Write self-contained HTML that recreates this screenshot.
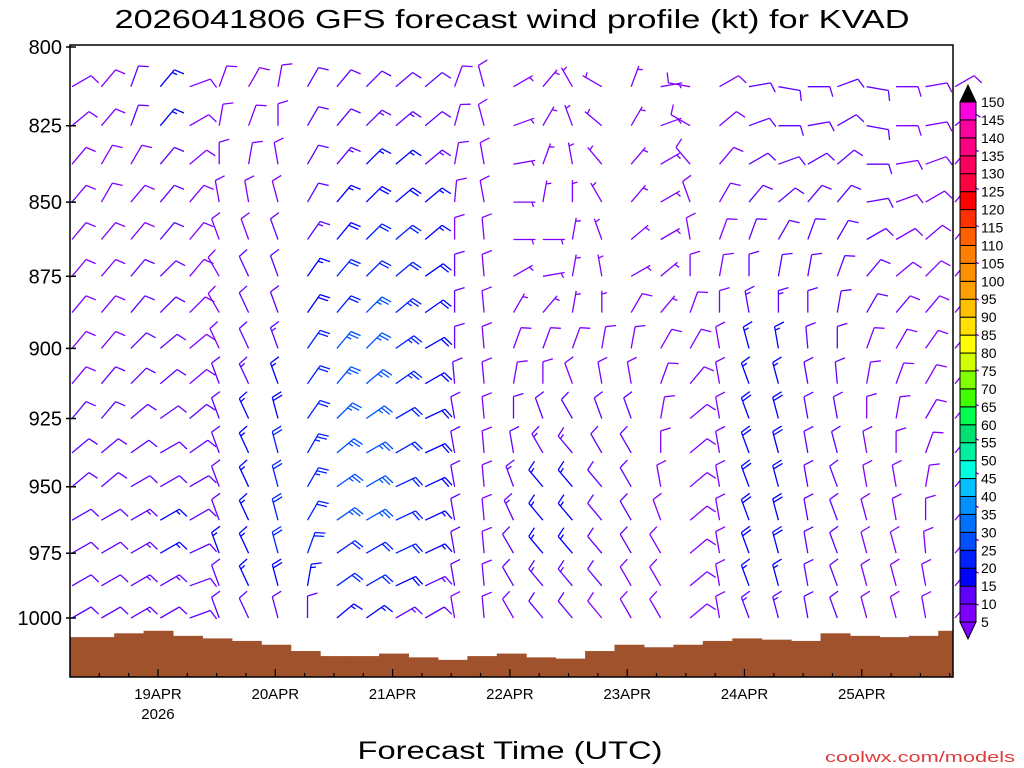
<!DOCTYPE html>
<html><head><meta charset="utf-8">
<style>
html,body{margin:0;padding:0;background:#fff;}
svg{display:block;font-family:"Liberation Sans",sans-serif;}
</style></head>
<body>
<svg id="chart" width="1024" height="768" viewBox="0 0 1024 768">
<text x="512" y="28" text-anchor="middle" font-size="26" textLength="795" lengthAdjust="spacingAndGlyphs">2026041806 GFS forecast wind profile (kt) for KVAD</text>
<g id="terrain"></g>
<g id="barbs"></g>
<rect x="70" y="45" width="883" height="632" fill="none" stroke="#000" stroke-width="1.5"/>
<g id="yaxis"></g>
<g id="xaxis"></g>
<text x="510" y="759" text-anchor="middle" font-size="25" textLength="305" lengthAdjust="spacingAndGlyphs">Forecast Time (UTC)</text>
<text x="1015" y="762" text-anchor="end" font-size="15" fill="#e03a3a" textLength="190" lengthAdjust="spacingAndGlyphs">coolwx.com/models</text>
<g id="cbar"></g>
</svg>
<script>
const levels=[812.5,825,837.5,850,862.5,875,887.5,900,912.5,925,937.5,950,962.5,975,987.5,1000];
const pTicks=[800,825,850,875,900,925,950,975,1000];
const dayLabels=["19APR","20APR","21APR","22APR","23APR","24APR","25APR"];
const cbarLabels=[5,10,15,20,25,30,35,40,45,50,55,60,65,70,75,80,85,90,95,100,105,110,115,120,125,130,135,140,145,150];
const cbarColors=["#8000ff","#6000ff","#0000ff","#0020ff","#0050ff","#0070ff","#0090ff","#00c0ff","#00ffe0","#00f0a0","#00e070","#00ff50","#40ff00","#80ff00","#d0ff00","#ffff00","#ffe000","#ffc000","#ffa000","#ff9000","#ff8000","#ff6000","#ff3000","#ff0000","#ff0040","#ff0060","#ff0080","#ff00a0","#ff00e0"];
const sfcP=[1007.5,1007.5,1006,1005,1007,1008,1009,1010.5,1013,1015,1015,1014,1015.5,1016.5,1015,1014,1015.5,1016,1013,1010.5,1011.5,1010.5,1009,1008,1008.5,1009,1006,1007,1007.5,1007,1005];
const dirs=[
[60,50,40,40,40,40,40,40,40,40,50,50,60,60,60,60],
[40,40,30,30,40,40,40,40,40,40,50,50,60,60,60,60],
[20,20,30,40,40,40,40,45,45,50,55,60,60,60,60,60],
[40,40,40,40,40,45,45,50,50,55,60,60,60,60,60,60],
[70,60,50,40,40,40,45,50,50,50,55,60,60,65,70,70],
[20,10,0,350,340,330,330,335,340,340,340,340,340,340,340,340],
[30,20,10,350,340,335,335,335,335,335,335,335,335,335,335,335],
[10,0,350,345,340,340,340,340,340,345,345,345,345,345,345,345],
[30,30,30,30,35,35,35,35,35,35,30,30,30,20,10,0],
[40,40,40,40,40,40,40,40,40,45,50,55,55,55,55,50],
[45,45,45,45,45,45,45,45,50,55,60,60,60,60,60,55],
[50,50,50,50,50,50,50,55,55,60,60,65,65,65,65,60],
[50,50,50,50,50,55,55,60,60,65,65,65,65,65,65,60],
[20,15,10,5,0,0,0,0,355,350,350,350,350,350,350,350],
[345,345,350,350,355,355,355,355,355,355,355,355,355,355,355,355],
[60,70,80,90,90,60,30,20,10,0,350,340,335,330,330,330],
[40,30,20,10,90,80,40,20,0,340,330,320,320,320,320,320],
[330,340,350,0,10,10,10,20,340,330,320,320,320,320,320,320],
[300,310,320,330,340,350,0,10,350,340,330,320,320,320,320,320],
[20,30,40,40,50,60,30,10,350,340,330,330,330,330,330,330],
[80,70,60,60,60,50,40,30,20,10,0,350,340,330,330,330],
[280,300,320,340,350,0,20,30,40,50,50,50,50,50,50,50],
[60,50,40,30,20,10,0,350,350,350,350,350,350,350,350,350],
[80,70,60,40,20,0,350,345,340,340,340,340,340,340,340,340],
[100,90,70,50,30,10,0,350,345,345,345,345,345,345,345,345],
[90,80,60,40,20,10,0,355,350,350,350,350,350,350,350,350],
[70,60,50,40,30,20,10,0,355,350,345,340,340,340,340,340],
[100,100,90,80,60,40,30,20,10,0,350,350,345,345,345,345],
[90,90,80,70,60,50,40,30,20,10,0,350,350,345,345,345],
[80,80,70,60,50,45,40,35,30,30,20,10,0,355,350,350],
[60,50,40,40,40,40,40,40,40,40,40,40,40,40,40,40]];
const speeds=[
[8,8,8,8,8,8,8,8,8,10,10,10,10,10,10,10],
[8,8,8,8,8,8,8,8,10,10,10,12,12,12,12,12],
[10,10,8,8,8,10,10,10,10,10,12,12,14,14,14,14],
[15,15,12,10,10,10,10,10,10,10,12,12,15,15,14,12],
[8,8,8,8,8,8,8,8,8,10,10,10,10,10,10,12],
[8,8,8,8,8,8,8,8,10,10,12,12,12,15,12,10],
[8,8,8,8,8,10,10,12,14,15,16,16,16,16,15,12],
[8,8,8,8,10,10,12,14,15,18,20,20,20,20,18,12],
[10,10,10,12,14,16,18,20,22,22,24,24,22,20,16,12],
[12,12,14,16,18,20,22,25,25,25,25,25,25,22,20,15],
[12,14,16,18,20,22,25,25,25,25,25,25,25,22,20,15],
[12,14,16,18,20,22,24,24,24,22,22,22,22,20,18,14],
[10,12,14,15,16,18,18,18,18,18,18,18,16,15,14,12],
[8,8,8,8,8,10,10,10,10,10,10,10,10,10,10,8],
[8,8,8,8,8,8,8,8,8,8,8,8,8,8,8,8],
[6,6,6,6,6,6,6,8,8,10,12,14,14,12,10,8],
[6,6,6,6,6,6,6,8,8,10,14,16,16,16,14,10],
[6,6,6,6,6,6,6,8,8,12,14,16,16,16,14,10],
[6,6,6,6,6,6,6,8,8,10,12,12,12,12,10,8],
[6,6,6,6,6,6,8,8,8,10,10,10,10,10,8,8],
[6,6,6,6,6,6,6,8,8,8,8,8,8,8,8,8],
[8,8,8,8,8,8,8,8,8,8,8,8,8,8,8,8],
[8,8,8,8,8,8,8,8,8,8,8,8,8,8,8,8],
[10,10,10,10,10,12,14,16,16,18,18,18,18,18,16,14],
[12,12,12,12,12,12,14,16,16,18,18,18,18,18,16,14],
[10,10,10,10,10,10,10,10,10,10,10,10,10,10,10,10],
[10,10,10,10,10,10,10,10,10,10,10,10,10,10,10,10],
[12,12,12,10,10,10,10,8,8,8,8,8,8,8,8,8],
[8,8,8,8,8,8,8,8,8,8,8,8,8,8,8,8],
[8,8,8,8,8,8,8,8,8,8,8,8,8,8,8,8],
[8,8,8,8,8,8,8,8,8,8,8,8,8,8,8,8]];

const NS="http://www.w3.org/2000/svg";
const X0=70,X1=953,Y0=45,Y1=677;
const colW=(X1-X0)/30;
function xCol(i){return X0+i*colW;}
function xDay(d){return X0+(d+0.75)*117.3;} // d=0 -> 19APR 00Z
function yP(p){return 47+Math.log(p/800)/Math.log(1000/800)*571;}
function mk(tag,attrs,parent){const e=document.createElementNS(NS,tag);for(const k in attrs)e.setAttribute(k,attrs[k]);parent.appendChild(e);return e;}
function colorFor(s){let i=Math.floor(s/5)-1;if(i<0)i=0;if(i>28)i=28;return cbarColors[i];}

// terrain
const terr=document.getElementById('terrain');
for(let i=0;i<sfcP.length;i++){
  const xa=Math.max(X0,xCol(i)-colW/2),xb=Math.min(X1,xCol(i)+colW/2);
  const y=yP(sfcP[i]);
  const r=mk('rect',{x:xa,y:y,width:xb-xa+0.5,height:Y1-y,fill:'#a0522d'},terr);
  
  
}

// barbs
const bg=document.getElementById('barbs');
for(let i=0;i<dirs.length;i++){
  for(let k=0;k<levels.length;k++){
    if(levels[k]>sfcP[i]-3)continue;
    const d=dirs[i][k]*Math.PI/180,s=speeds[i][k];
    const x=xCol(i)+2,y=yP(levels[k]);
    const ux=Math.sin(d),uy=-Math.cos(d);
    const px=-uy,py=ux; // clockwise perpendicular
    const L=22,ex=x+ux*L,ey=y+uy*L;
    let path=`M${x.toFixed(1)},${y.toFixed(1)}L${ex.toFixed(1)},${ey.toFixed(1)}`;
    let rem=Math.round(s/5)*5,pos=0;
    const bl=10;
    while(rem>=10){
      const sx=ex-ux*pos*3.5,sy=ey-uy*pos*3.5;
      path+=`M${sx.toFixed(1)},${sy.toFixed(1)}l${(px*bl+ux*3).toFixed(1)},${(py*bl+uy*3).toFixed(1)}`;
      rem-=10;pos++;
    }
    if(rem>=5){
      if(pos===0)pos=1;
      const sx=ex-ux*pos*3.5,sy=ey-uy*pos*3.5;
      path+=`M${sx.toFixed(1)},${sy.toFixed(1)}l${(px*bl/2+ux*1.5).toFixed(1)},${(py*bl/2+uy*1.5).toFixed(1)}`;
    }
    const p=mk('path',{d:path,stroke:colorFor(s),'stroke-width':1.3,fill:'none'},bg);
    
    
  }
}

// y axis
const ya=document.getElementById('yaxis');
for(const p of pTicks){
  const y=yP(p);
  const t=mk('line',{x1:X0-4,x2:X0+6,y1:y,y2:y,stroke:'#000','stroke-width':1.5},ya);
  
  
  const lb=mk('text',{x:X0-8,y:y+7,'text-anchor':'end','font-size':20},ya);
  
  
  lb.textContent=p;
}
// x axis
const xa=document.getElementById('xaxis');
for(let d=-1;d<=7;d++){
  for(let h=0;h<4;h++){
    const x=xDay(d+h/4);
    if(x<X0||x>X1)continue;
    const len=h===0?8:4;
    const t=mk('line',{x1:x,x2:x,y1:Y1,y2:Y1-len,stroke:'#000','stroke-width':1.2},xa);
    
    
  }
}
dayLabels.forEach((lab,d)=>{
  const t=mk('text',{x:xDay(d),y:699,'text-anchor':'middle','font-size':15},xa);
  
  
  t.textContent=lab;
});
const yr=mk('text',{x:xDay(0),y:719,'text-anchor':'middle','font-size':15},xa);


yr.textContent='2026';

// colorbar
const cb=document.getElementById('cbar');
const cbX=960,cbW=16,cbTop=102,cbBot=622;
const bh=(cbBot-cbTop)/cbarColors.length;
cbarColors.forEach((c,i)=>{
  const y=cbBot-(i+1)*bh;
  const r=mk('rect',{x:cbX,y:y,width:cbW,height:bh,fill:c,stroke:'#000','stroke-width':1},cb);
  
  
});
const tt=mk('polygon',{points:`${cbX},${cbTop} ${cbX+cbW},${cbTop} ${cbX+cbW/2},${cbTop-17}`,fill:'#000',stroke:'#000'},cb);


const bt=mk('polygon',{points:`${cbX},${cbBot} ${cbX+cbW},${cbBot} ${cbX+cbW/2},${cbBot+17}`,fill:'#8000ff',stroke:'#000'},cb);


cbarLabels.forEach((v,i)=>{
  const y=cbBot-i*bh;
  const t=mk('text',{x:cbX+21,y:y+5,'font-size':14},cb);
  
  
  t.textContent=v;
});
</script>
</body></html>
